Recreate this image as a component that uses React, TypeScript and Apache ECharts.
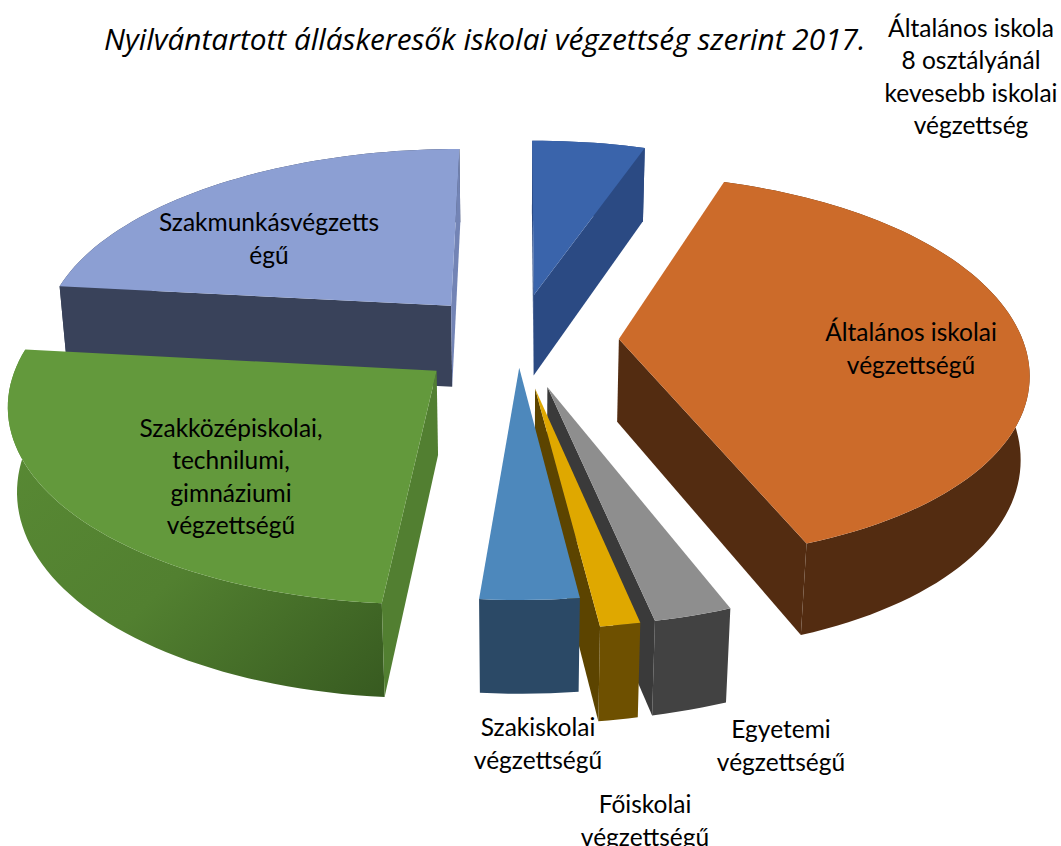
import React, { useEffect, useRef } from "react";
import * as echarts from "echarts";

const titleText = "Nyilvántartott álláskeresők iskolai végzettség szerint 2017.";
const categories = [
  "Általános iskola\n8 osztályánál\nkevesebb iskolai\nvégzettség",
  "Általános iskolai\nvégzettségű",
  "Egyetemi\nvégzettségű",
  "Főiskolai\nvégzettségű",
  "Szakiskolai\nvégzettségű",
  "Szakközépiskolai,\ntechnilumi,\ngimnáziumi\nvégzettségű",
  "Szakmunkásvégzetts\négű",
];
const shares = [5.2, 39.0, 2.55, 1.3, 3.25, 25.45, 23.25];
const explode = [0.25, 0.25, 0.25, 0.25, 0.144, 0.25, 0.25];
const drawOrder = [6, 0, 5, 1, 2, 3, 4];
const topColors = ["#3a64ab", "#cc6b2a", "#8e8e8e", "#dfa800", "#4d88bc", "#63993c", "#8c9fd3"];
const wallColors = ["#2b4a83", "#532c11", "#424242", "#6e5000", "#2b4966", "#53822f", "#39425a"];
const wallEnd = ["#2b4a83", "#532c11", "#3a3a3a", "#5c4400", "#2b4966", "#527f31", "#7384b5"];
const wallStart = ["#2b4a83", "#532c11", "#3a3a3a", "#5c4400", "#2b4966", "#527f31", "#39425a"];
const labelX = [971, 911, 781, 645, 538, 231, 269];
const labelY = [76, 348, 745, 820, 743, 476, 238];

const CX = 518, CY = 340, A = 0.459, B = 0.888, D = 6.05, F = 2493, H = 0.23;

function project(x: number, y: number, z: number) {
  const w = D - B * y + A * z;
  const squeeze = x > 0 ? 1 - 0.02 * Math.max(0, 1 - y * y) : 1;
  return [CX + (F * x * squeeze) / w, CY + (F * (A * y + B * z)) / w];
}
const total = shares.reduce((s, v) => s + v, 0);
const starts: number[] = [];
shares.reduce((acc, v, i) => {
  starts[i] = acc;
  return acc + (v / total) * Math.PI * 2;
}, 0);

function area(p: number[][]) {
  let s = 0;
  p.forEach((q, i) => {
    const r = p[(i + 1) % p.length];
    s += q[0] * r[1] - r[0] * q[1];
  });
  return s;
}

function renderSlice(_: any, api: any) {
  const i = api.value(0);
  const t0 = starts[i];
  const t1 = t0 + (shares[i] / total) * Math.PI * 2;
  const mid = (t0 + t1) / 2;
  const ox = explode[i] * Math.sin(mid), oy = -explode[i] * Math.cos(mid);
  const pt = (t: number, r: number, z: number) => project(ox + r * Math.sin(t), oy - r * Math.cos(t), z);
  const steps = Math.max(4, Math.ceil((t1 - t0) / 0.03));
  const angles: number[] = [];
  for (let k = 0; k <= steps; k++) angles.push(t0 + ((t1 - t0) * k) / steps);
  const topArc = angles.map((t) => pt(t, 1, 0));
  const botArc = angles.map((t) => pt(t, 1, H));
  const children: any[] = [];
  const poly = (points: number[][], fill: any) =>
    children.push({ type: "polygon", shape: { points }, style: { fill, stroke: "none" }, silent: true });

  const isGreen = i === 5;
  const outerFill = isGreen
    ? new echarts.graphic.LinearGradient(0, 0, 1, 1, [
        { offset: 0, color: "#5a8c35" },
        { offset: 0.55, color: "#528030" },
        { offset: 1, color: "#375a20" },
      ])
    : wallColors[i];
  poly([...topArc, ...[...botArc].reverse()], outerFill);

  const startWall = [pt(t0, 0, 0), pt(t0, 1, 0), pt(t0, 1, H), pt(t0, 0, H)];
  const endWall = [pt(t1, 0, 0), pt(t1, 1, 0), pt(t1, 1, H), pt(t1, 0, H)];
  if (area(startWall) < 0) poly(startWall, wallStart[i]);
  if (area(endWall) > 0) poly(endWall, wallEnd[i]);
  poly([pt(t0, 0, 0), ...topArc], topColors[i]);
  return { type: "group", children };
}

export default function App() {
  const ref = useRef<HTMLDivElement>(null);
  useEffect(() => {
    document.body.style.margin = "0";
    const chart = echarts.init(ref.current!, null, { renderer: "svg" });
    chart.setOption({
      animation: false,
      backgroundColor: "#ffffff",
      title: {
        text: titleText,
        left: 99,
        top: 18,
        textStyle: { fontFamily: "Open Sans", fontStyle: "italic", fontWeight: "normal", fontSize: 29.8, color: "#000000" },
      },
      series: [
        {
          type: "custom",
          coordinateSystem: "none",
          silent: true,
          renderItem: renderSlice,
          data: drawOrder.map((i) => [i]),
        },
      ],
      graphic: categories.map((name, i) => ({
        type: "text",
        x: labelX[i],
        y: labelY[i],
        z: 10,
        style: {
          text: name,
          fill: "#000000",
          fontFamily: "Lato",
          fontSize: 24.5,
          lineHeight: 32.5,
          textAlign: "center",
          textVerticalAlign: "middle",
        },
      })),
    });
    return () => chart.dispose();
  }, []);
  return <div ref={ref} style={{ position: "absolute", left: 0, top: 0, width: 1061, height: 846 }} />;
}
